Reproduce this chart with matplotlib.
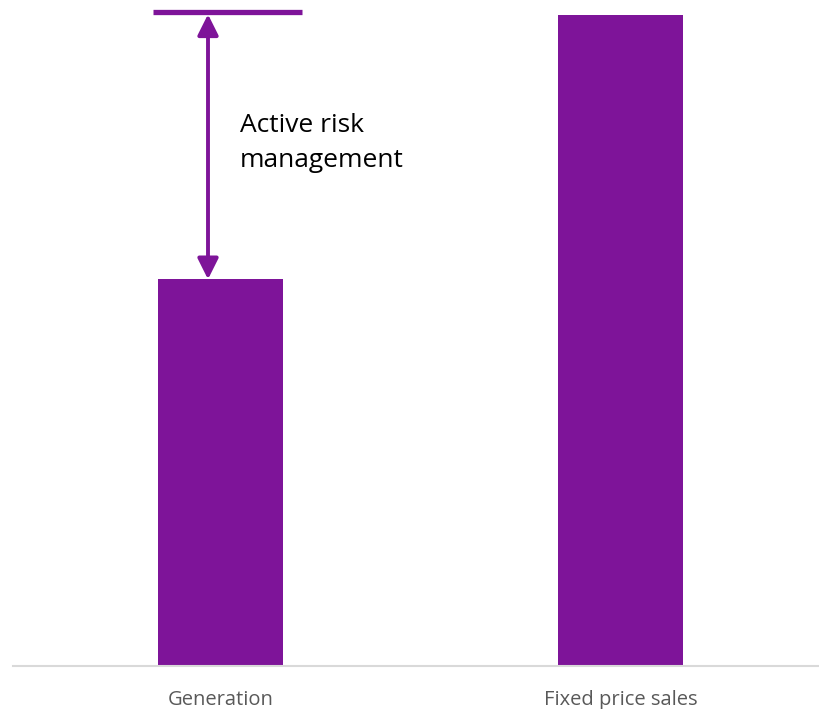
import matplotlib
matplotlib.use("Agg")
import matplotlib.pyplot as plt

categories = ["Generation", "Fixed price sales"]
values = [59.4, 100.0]
risk_level = 100.5
annotation = "Active risk\nmanagement"

purple = "#7E1499"

fig = plt.figure(figsize=(8.2, 7.09), dpi=100)
ax = fig.add_axes([13/820, 1 - 666/709, 807/820, 666/709])
x = list(range(len(categories)))
ax.bar(x, values, width=0.3125, color=purple, zorder=2)
ax.set_xlim(-0.51875, 1.49875)
ax.set_ylim(0, 102.3)
for s in ["top", "right", "left"]:
    ax.spines[s].set_visible(False)
ax.spines["bottom"].set_color("#D9D9D9")
ax.spines["bottom"].set_linewidth(1.5)
ax.set_yticks([])
ax.set_xticks(x)
ax.set_xticklabels(categories, fontsize=14.5, color="#595959", family="Open Sans")
ax.tick_params(axis="x", length=0, pad=17)

# risk line and arrow
ax.plot([-0.169, 0.204], [risk_level, risk_level], color=purple, lw=3.8,
        solid_capstyle="butt", clip_on=False, zorder=3)
ax.annotate("", xy=(-0.03125, values[0]), xytext=(-0.03125, risk_level - 0.4),
            arrowprops=dict(arrowstyle="<|-|>,head_length=0.6,head_width=0.3",
                            color=purple, lw=2.8,
                            mutation_scale=21, shrinkA=0, shrinkB=0),
            annotation_clip=False, zorder=3)
ax.text(0.049, 80.3, annotation, fontsize=19, color="black", family="Open Sans",
        va="center", ha="left", linespacing=1.5)

fig.savefig("out.png", dpi=100)
